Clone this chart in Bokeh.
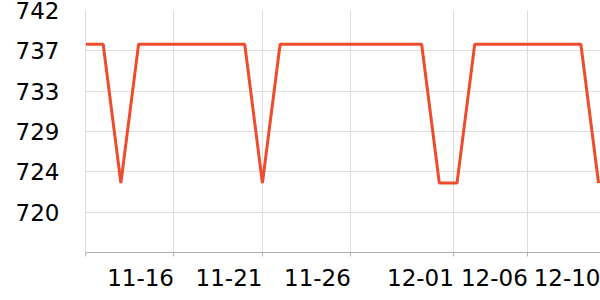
from bokeh.plotting import figure
from bokeh.models import FixedTicker, Range1d, ColumnDataSource
from bokeh.embed import file_html
from bokeh.resources import INLINE

# ---- data ----
dates = ["11-11", "11-12", "11-13", "11-14", "11-15", "11-16", "11-17", "11-18", "11-19", "11-20",
         "11-21", "11-22", "11-23", "11-24", "11-25", "11-26", "11-27", "11-28", "11-29", "11-30",
         "12-01", "12-02", "12-03", "12-04", "12-05", "12-06", "12-07", "12-08", "12-09", "12-10"]
values = [737.9, 737.9, 723.1, 737.9, 737.9, 737.9, 737.9, 737.9, 737.9, 737.9,
          723.1, 737.9, 737.9, 737.9, 737.9, 737.9, 737.9, 737.9, 737.9, 737.9,
          723.1, 723.1, 737.9, 737.9, 737.9, 737.9, 737.9, 737.9, 737.9, 723.1]
x_tick_labels = ["11-16", "11-21", "11-26", "12-01", "12-06", "12-10"]
x_tick_pos = [5, 10, 15, 20.82, 25, 29.11]          # category positions of the tick marks
y_tick_vals = [720.0, 724.3, 728.6, 732.9, 737.2, 741.5]
y_tick_labels = ["720", "724", "729", "733", "737", "742"]

idx = list(range(len(dates)))
src = ColumnDataSource(dict(x=idx, y=values, d=dates))

p = figure(width=600, height=300, output_backend="svg", toolbar_location=None,
           x_range=Range1d(0, 29.11), y_range=Range1d(715.7, 741.5))
p.min_border_left = 85
p.min_border_right = 0
p.min_border_top = 10
p.min_border_bottom = 48
p.outline_line_color = None
p.background_fill_color = "white"
p.border_fill_color = "white"

p.line("x", "y", source=src, line_color="#ef4b2c", line_width=3)

FONT = "DejaVu Sans"
SIZE = "23px"
px_per_unit = 515 / 29.11
half_label = (4 * 0.636 + 0.361) * 23 / 2 / px_per_unit
label_pos = [t - half_label for t in x_tick_pos]

xa = p.xaxis[0]
xa.ticker = FixedTicker(ticks=label_pos, minor_ticks=[0] + x_tick_pos)
xa.major_label_overrides = {lp: lab for lp, lab in zip(label_pos, x_tick_labels)}
xa.major_tick_line_color = None
xa.minor_tick_line_color = "#b0b0b0"
xa.minor_tick_in = 0
xa.minor_tick_out = 4
xa.axis_line_color = "#b0b0b0"
xa.major_label_text_font = FONT
xa.major_label_text_font_size = SIZE
xa.major_label_text_color = "black"
xa.major_label_standoff = 10

ya = p.yaxis[0]
ya.ticker = FixedTicker(ticks=y_tick_vals)
ya.major_label_overrides = {v: l for v, l in zip(y_tick_vals, y_tick_labels)}
ya.major_tick_line_color = None
ya.minor_tick_line_color = None
ya.axis_line_color = "#dddddd"
ya.major_label_text_font = FONT
ya.major_label_text_font_size = SIZE
ya.major_label_text_color = "black"
ya.major_label_standoff = 20

p.xgrid.ticker = FixedTicker(ticks=[0] + x_tick_pos)
p.xgrid.grid_line_color = "#dddddd"
p.ygrid.grid_line_color = "#dddddd"

open("out.html", "w").write(file_html(p, INLINE))
